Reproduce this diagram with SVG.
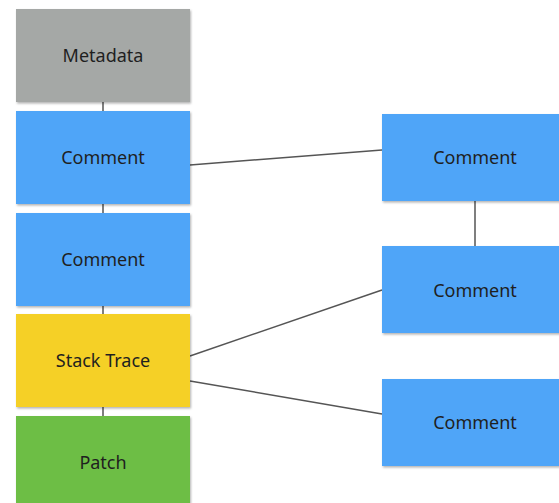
<svg xmlns="http://www.w3.org/2000/svg" width="559" height="503" viewBox="0 0 559 503">
<defs>
<filter id="sh" x="-5%" y="-5%" width="115%" height="115%">
<feDropShadow dx="1" dy="1.5" stdDeviation="1" flood-color="#000" flood-opacity="0.3"/>
</filter>
<style>
.n{filter:url(#sh)}
.t{font-family:"Noto Sans","Open Sans",sans-serif;font-size:18px;fill:#1f1f1f;text-anchor:middle;dominant-baseline:central}
.c{stroke:#555;stroke-width:1.5;fill:none}
.gray{fill:#a5a8a6}.blue{fill:#4fa5f8}.yellow{fill:#f5d028}.green{fill:#6dbe45}
</style>
</defs>
<rect width="559" height="503" fill="#fff"/>
<g id="connectors">
<line class="c" x1="103" y1="102" x2="103" y2="111"/>
<line class="c" x1="103" y1="204" x2="103" y2="213"/>
<line class="c" x1="103" y1="306" x2="103" y2="314"/>
<line class="c" x1="103" y1="407" x2="103" y2="416"/>
<line class="c" x1="190" y1="165" x2="382" y2="150"/>
<line class="c" x1="475" y1="201" x2="475" y2="246"/>
<line class="c" x1="190" y1="356" x2="382" y2="290"/>
<line class="c" x1="190" y1="381" x2="382" y2="414"/>
</g>
<g id="metadata"><rect class="n gray" x="16" y="9" width="174" height="93"/><text class="t" x="103" y="55">Metadata</text></g>
<g id="comment1"><rect class="n blue" x="16" y="111" width="174" height="93"/><text class="t" x="103" y="157">Comment</text></g>
<g id="comment2"><rect class="n blue" x="16" y="213" width="174" height="93"/><text class="t" x="103" y="259">Comment</text></g>
<g id="stacktrace"><rect class="n yellow" x="16" y="314" width="174" height="93"/><text class="t" x="103" y="360">Stack Trace</text></g>
<g id="patch"><rect class="n green" x="16" y="416" width="174" height="93"/><text class="t" x="103" y="462">Patch</text></g>
<g id="rcomment1"><rect class="n blue" x="382" y="114" width="186" height="87"/><text class="t" x="475" y="157">Comment</text></g>
<g id="rcomment2"><rect class="n blue" x="382" y="246" width="186" height="87"/><text class="t" x="475" y="290">Comment</text></g>
<g id="rcomment3"><rect class="n blue" x="382" y="379" width="186" height="87"/><text class="t" x="475" y="422">Comment</text></g>
</svg>
